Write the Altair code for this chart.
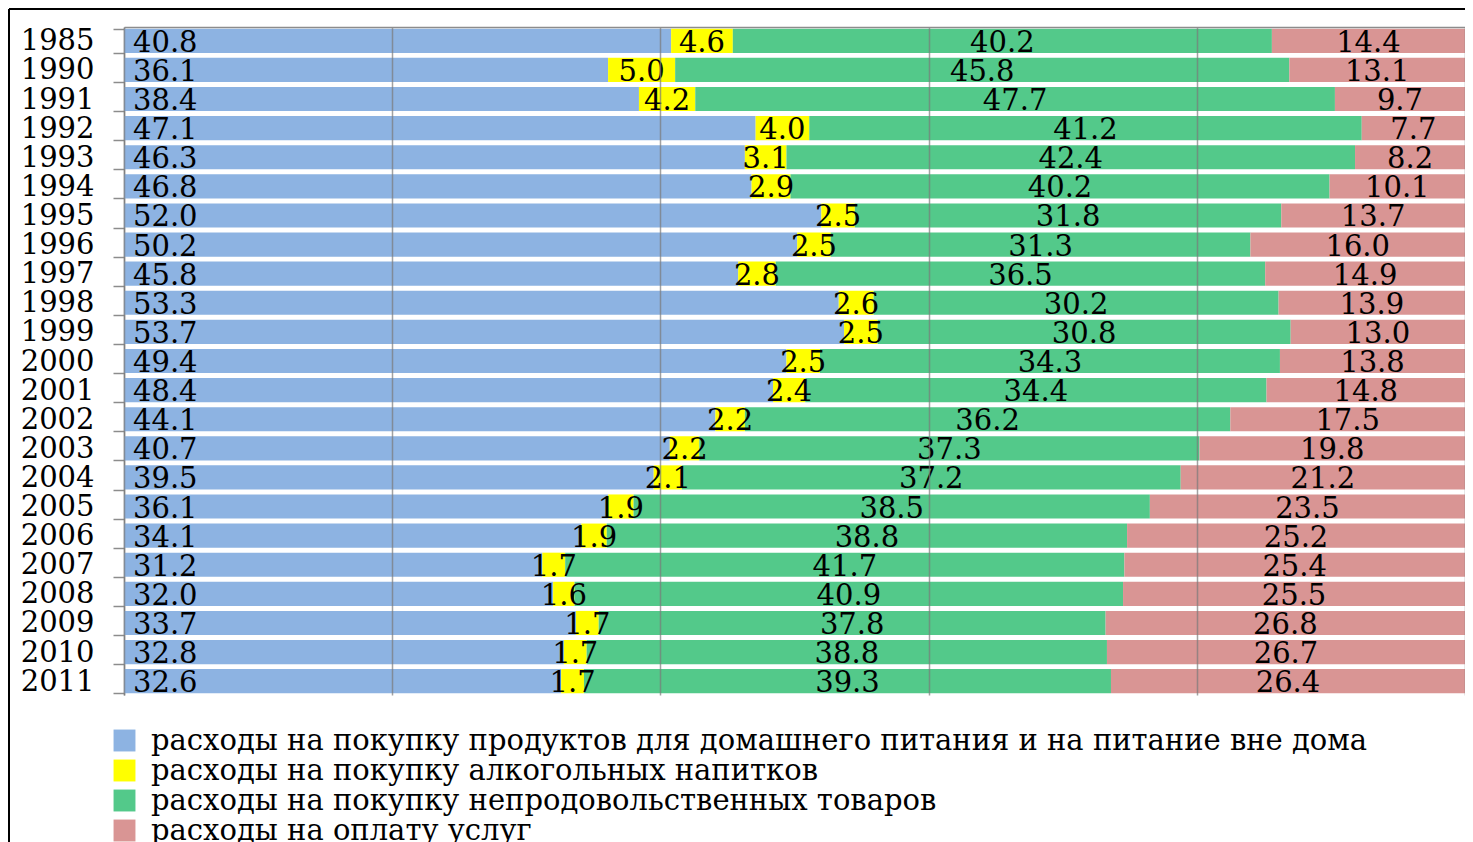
import altair as alt
import pandas as pd

years = ["1985", "1990", "1991", "1992", "1993", "1994", "1995", "1996", "1997",
         "1998", "1999", "2000", "2001", "2002", "2003", "2004", "2005", "2006",
         "2007", "2008", "2009", "2010", "2011"]
food = [40.8, 36.1, 38.4, 47.1, 46.3, 46.8, 52.0, 50.2, 45.8, 53.3, 53.7, 49.4,
        48.4, 44.1, 40.7, 39.5, 36.1, 34.1, 31.2, 32.0, 33.7, 32.8, 32.6]
alcohol = [4.6, 5.0, 4.2, 4.0, 3.1, 2.9, 2.5, 2.5, 2.8, 2.6, 2.5, 2.5,
           2.4, 2.2, 2.2, 2.1, 1.9, 1.9, 1.7, 1.6, 1.7, 1.7, 1.7]
nonfood = [40.2, 45.8, 47.7, 41.2, 42.4, 40.2, 31.8, 31.3, 36.5, 30.2, 30.8, 34.3,
           34.4, 36.2, 37.3, 37.2, 38.5, 38.8, 41.7, 40.9, 37.8, 38.8, 39.3]
services = [14.4, 13.1, 9.7, 7.7, 8.2, 10.1, 13.7, 16.0, 14.9, 13.9, 13.0, 13.8,
            14.8, 17.5, 19.8, 21.2, 23.5, 25.2, 25.4, 25.5, 26.8, 26.7, 26.4]

series_names = [
    "расходы на покупку продуктов для домашнего питания и на питание вне дома",
    "расходы на покупку алкогольных напитков",
    "расходы на покупку непродовольственных товаров",
    "расходы на оплату услуг",
]
series_values = [food, alcohol, nonfood, services]
colors = ["#8DB3E2", "#FFFF00", "#53C98A", "#D99594"]

rows = []
for k, (name, vals) in enumerate(zip(series_names, series_values)):
    for y, v in zip(years, vals):
        rows.append({"year": y, "series": name, "order": k, "value": v})
df = pd.DataFrame(rows)

FONT = "DejaVu Serif"

base = alt.Chart(df).transform_stack(
    stack="value", groupby=["year"], as_=["v0", "v1"],
    sort=[alt.SortField("order", order="ascending")]
).transform_calculate(mid="(datum.v0 + datum.v1) / 2")

yenc = alt.Y("year:N", sort=years, title=None,
             scale=alt.Scale(paddingInner=0.17, paddingOuter=0.06),
             axis=alt.Axis(labelFont=FONT, labelFontSize=29, labelColor="black",
                           domainColor="#8c8c8c", tickColor="#8c8c8c", tickSize=11,
                           tickBand="extent", labelPadding=19, domainWidth=1.5,
                           tickWidth=1.5))

xscale = alt.Scale(domain=[0, 100], nice=False)

bars = base.mark_bar(strokeWidth=0).encode(
    x=alt.X("v0:Q", scale=xscale, title=None,
            axis=alt.Axis(orient="top", labels=False, ticks=False, grid=True,
                          values=[0, 20, 40, 60, 80, 100], domainColor="#8c8c8c",
                          domainWidth=1.5, gridColor="#7a7a7a", gridOpacity=0.7,
                          gridWidth=1.5, zindex=1)),
    x2="v1:Q",
    y=yenc,
    color=alt.Color("series:N", scale=alt.Scale(domain=series_names, range=colors),
                    legend=alt.Legend(orient="none", legendX=-14, legendY=699,
                                      direction="vertical", title=None,
                                      symbolType="square", symbolSize=480,
                                      symbolStrokeWidth=0, labelFont=FONT,
                                      labelFontSize=29, labelColor="black",
                                      rowPadding=0, labelOffset=12, padding=0,
                                      labelLimit=0)),
    order=alt.Order("order:Q"),
)

text_first = base.transform_filter("datum.order == 0").mark_text(
    align="left", baseline="middle", dx=9, dy=2, font=FONT, fontSize=29, color="black"
).encode(x=alt.X("v0:Q", scale=xscale), y=alt.Y("year:N", sort=years),
         text=alt.Text("value:Q", format=".1f"))

text_rest = base.transform_filter("datum.order > 0").mark_text(
    align="center", baseline="middle", dy=2, font=FONT, fontSize=29, color="black"
).encode(x=alt.X("mid:Q", scale=xscale), y=alt.Y("year:N", sort=years),
         text=alt.Text("value:Q", format=".1f"))

frame_top = alt.Chart(alt.Data(values=[{}])).mark_rule(color="black", strokeWidth=2).encode(
    x=alt.value(-115), x2=alt.value(1360), y=alt.value(-18))
frame_left = alt.Chart(alt.Data(values=[{}])).mark_rule(color="black", strokeWidth=2).encode(
    x=alt.value(-115), y=alt.value(-18), y2=alt.value(900))

chart = alt.layer(bars, text_first, text_rest, frame_top, frame_left).properties(
    width=1341, height=668,
    autosize=alt.AutoSizeParams(type="none"),
    padding={"left": 116, "top": 19, "right": 0, "bottom": 147},
).configure_view(stroke=None)

chart.save("out.html", embed_options={"renderer": "svg", "actions": False})
